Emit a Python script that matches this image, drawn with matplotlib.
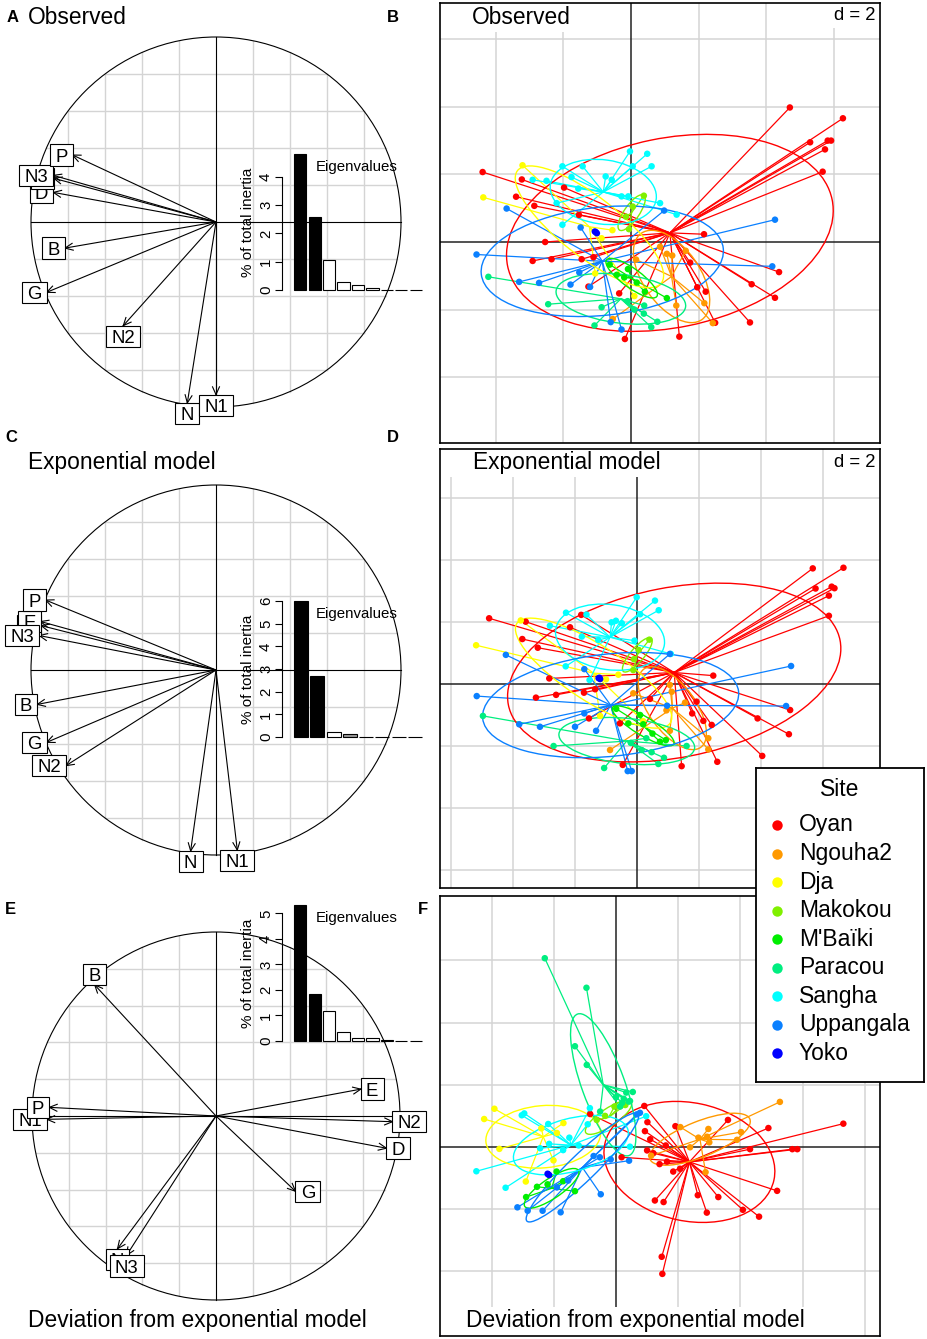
import matplotlib
matplotlib.use('Agg')
import matplotlib.pyplot as plt
from matplotlib.patches import Ellipse, Rectangle, Circle
from matplotlib.collections import LineCollection
import numpy as np

plt.rcParams['font.family'] = ['Liberation Sans', 'DejaVu Sans']

# ---------------- data ----------------
sites = ['Oyan', 'Ngouha2', 'Dja', 'Makokou', "M'Baïki", 'Paracou', 'Sangha', 'Uppangala', 'Yoko']
site_colors = ['#FF0000', '#FF9900', '#FFFF00', '#80F000', '#00EE00', '#00EE80', '#00FFFF', '#0A80FF', '#0000FF']

variables = ['B', 'D', 'E', 'G', 'N', 'N1', 'N2', 'N3', 'P']
obs_corr_x = [-0.816, -0.879, -0.876, -0.915, -0.155, 0.000, -0.501, -0.879, -0.775]
obs_corr_y = [-0.141, 0.160, 0.236, -0.380, -0.978, -0.933, -0.560, 0.252, 0.362]
exp_corr_x = [-0.966, -0.945, -0.948, -0.915, -0.137, 0.115, -0.811, -0.955, -0.921]
exp_corr_y = [-0.186, 0.240, 0.262, -0.391, -0.978, -0.973, -0.517, 0.186, 0.378]
dev_corr_x = [-0.659, 0.926, 0.787, 0.432, -0.535, -0.919, 0.959, -0.486, -0.906]
dev_corr_y = [0.712, -0.175, 0.146, -0.409, -0.721, -0.018, -0.031, -0.757, 0.047]

obs_eig = [4.80, 2.58, 1.07, 0.28, 0.17, 0.07, 0.0, 0.0, 0.0]
exp_eig = [6.00, 2.70, 0.20, 0.12, 0.0, 0.0, 0.0, 0.0]
dev_eig = [5.33, 1.83, 1.17, 0.34, 0.13, 0.12, 0.02, 0.0, 0.0]
obs_eig_fill = ['black', 'black', 'white', 'white', 'white', 'white', 'white', 'white', 'white']
exp_eig_fill = ['black', 'black', 'white', '#999999', 'white', 'white', 'white', 'white']
dev_eig_fill = ['black', 'black', 'white', 'white', 'white', 'white', 'white', 'white', 'white']

observed_pts = {
    'Oyan': [(4.70, 3.98), (6.27, 3.66), (5.30, 2.95), (5.82, 3.00), (5.92, 3.00), (5.74, 2.74),
             (5.67, 2.08), (2.16, 0.23), (4.38, -0.89), (3.57, -1.25), (4.26, -1.65), (3.52, -2.38),
             (2.49, -2.39), (2.21, -1.47), (1.96, -1.34), (1.43, -2.80), (1.75, -0.61),
             (-4.39, 2.07), (-3.23, 1.85), (-3.40, 1.34), (-2.86, 1.07), (-1.98, 1.61), (-1.54, 0.80),
             (-2.54, 0.00), (-2.91, -0.56), (-2.35, -0.51), (-1.46, -0.51), (-1.11, -0.45),
             (-1.26, -1.32), (-0.35, -1.52), (-0.18, -2.87)],
    'Ngouha2': [(1.06, -0.35), (1.22, -0.40), (1.62, -0.26), (0.15, -0.52), (1.34, -1.88),
                (2.17, -1.81), (2.42, -2.40), (-0.54, -2.28), (0.86, -0.14)],
    'Dja': [(-3.21, 2.27), (-4.37, 1.32), (-0.87, 0.11), (-1.06, -0.93), (0.10, -1.60), (-0.55, 0.35)],
    'Makokou': [(0.38, 1.37), (-0.06, 0.38), (-0.15, 0.75), (0.05, 1.05)],
    "M'Baïki": [(-0.63, -0.67), (-0.42, -0.97), (-0.09, -0.80), (1.06, -1.66), (0.41, -1.47),
                (0.17, -1.20), (-0.20, -1.05)],
    'Paracou': [(-4.22, -1.03), (-2.45, -1.84), (-0.87, -1.93), (-1.08, -2.47), (0.38, -2.12),
                (0.60, -2.52), (0.78, -2.36), (0.39, -1.88), (-0.10, -1.75), (0.10, -2.00)],
    'Sangha': [(-0.03, 2.68), (0.48, 2.61), (0.61, 2.24), (0.05, 2.24), (-0.75, 1.94), (-0.57, 1.84),
               (-1.43, 2.24), (-2.03, 2.24), (-1.76, 1.92), (-2.91, 1.84), (-2.50, 1.81), (-1.56, 1.58),
               (-0.28, 1.35), (-0.08, 1.35), (0.86, 1.15), (1.35, 0.81), (-2.20, 1.15), (-2.03, 0.51)],
    'Uppangala': [(-3.68, 0.99), (-4.57, -0.37), (-3.31, -1.18), (-2.72, -1.21), (-1.79, -1.26),
                  (-1.53, -0.90), (-1.21, -1.33), (-1.49, 0.43), (0.98, 0.93), (4.26, 0.66),
                  (4.18, -0.72), (-0.60, -2.37), (-0.28, -2.59)],
    'Yoko': [(-1.07, 0.31), (-1.01, 0.26), (-1.04, 0.29)],
}
# ellipse: centre x, centre y, semi-axis a, semi-axis b, angle (deg)
observed_ell = {
    'Oyan': (1.15, 0.27, 4.90, 2.80, 11.6), 'Ngouha2': (1.20, -1.02, 1.56, 0.84, -55),
    'Dja': (-1.23, 0.45, 2.70, 0.88, -38), 'Makokou': (0.02, 0.87, 0.63, 0.22, 55),
    "M'Baïki": (0.02, -1.07, 0.92, 0.28, -36), 'Paracou': (-0.30, -1.68, 1.93, 0.72, -7),
    'Sangha': (-0.82, 1.48, 1.58, 0.95, -8), 'Uppangala': (-0.85, -0.57, 3.60, 1.60, 6),
    'Yoko': (-1.04, 0.28, 0.06, 0.04, 30),
}

exponential_pts = {
    'Oyan': [(5.67, 3.73), (6.66, 3.75), (5.76, 3.08), (6.28, 3.14), (6.37, 3.09), (6.19, 2.85),
             (6.19, 2.20), (2.46, 0.27), (4.94, -0.84), (3.89, -1.11), (4.90, -1.62), (4.04, -2.32),
             (2.59, -2.51), (2.41, -1.32), (2.14, -1.19), (1.92, -0.57), (1.78, -0.95), (1.44, -2.65),
             (-4.77, 2.12), (-3.59, 2.01), (-3.70, 1.45), (-3.20, 1.17), (-2.16, 1.83), (-1.80, 2.23),
             (-2.83, 0.18), (-3.26, -0.44), (-2.61, -0.35), (-1.71, -0.28), (-1.35, -0.17),
             (-1.55, -1.11), (-0.55, -1.27), (-0.46, -2.61), (0.42, -0.48)],
    'Ngouha2': [(1.06, -0.03), (1.12, -0.25), (1.06, -1.51), (2.30, -1.75), (2.30, -2.11),
                (-0.87, -2.13), (-0.12, -0.30), (1.55, -0.60), (0.95, -0.85)],
    'Dja': [(-5.19, 1.25), (-3.75, 2.05), (-1.00, 0.15), (-1.19, -1.03), (-0.60, 0.30), (0.20, -1.20)],
    'Makokou': [(0.40, 1.43), (-0.12, 0.45), (-0.10, 0.80), (0.05, 1.10)],
    "M'Baïki": [(-0.67, -0.80), (0.10, -1.00), (-0.28, -1.27), (0.93, -1.81), (0.74, -1.86),
                (0.50, -1.60), (0.20, -1.30)],
    'Paracou': [(-4.97, -1.03), (-2.69, -2.00), (-1.06, -2.71), (0.69, -2.58), (0.87, -2.38),
                (0.47, -2.20), (1.60, -2.00), (0.15, -2.13), (-0.20, -1.90), (0.30, -1.75)],
    'Sangha': [(-0.01, 2.80), (0.58, 2.69), (0.70, 2.38), (0.10, 2.25), (-0.68, 2.04), (-0.82, 1.99),
               (-2.29, 2.30), (-1.63, 2.24), (-2.81, 1.88), (-1.78, 1.53), (-1.25, 1.42), (-0.08, 1.40),
               (1.09, 0.97), (-2.30, 0.57), (-1.53, 0.13), (-0.49, 1.96)],
    'Uppangala': [(-4.23, 0.94), (-5.17, -0.39), (-3.80, -1.30), (-3.13, -1.38), (-2.00, -1.38),
                  (-1.70, -0.95), (-1.32, -1.51), (-1.70, 0.48), (1.06, 0.97), (4.97, 0.58),
                  (4.81, -0.71), (-0.30, -2.81), (-0.17, -2.81), (0.97, -0.70)],
    'Yoko': [(-1.24, 0.19), (-1.19, 0.16), (-1.21, 0.20)],
}
exponential_ell = {
    'Oyan': (1.20, 0.37, 5.45, 2.74, 11), 'Ngouha2': (1.14, -0.78, 1.56, 0.75, -54),
    'Dja': (-1.40, 0.35, 2.95, 0.90, -33), 'Makokou': (0.01, 0.94, 0.70, 0.22, 50),
    "M'Baïki": (0.20, -1.35, 1.15, 0.30, -31), 'Paracou': (-0.33, -1.84, 2.20, 0.73, -6),
    'Sangha': (-0.87, 1.51, 1.77, 1.05, -8), 'Uppangala': (-0.85, -0.68, 4.15, 1.65, 6),
    'Yoko': (-1.21, 0.18, 0.06, 0.04, 30),
}

deviation_pts = {
    'Oyan': [(7.31, 0.75), (5.67, -0.07), (5.83, -0.07), (4.31, -0.07), (4.90, 0.61), (5.18, -1.41),
             (4.60, -2.24), (4.08, -2.02), (3.29, -1.61), (2.92, -2.11), (2.63, -1.55), (1.53, -1.77),
             (1.25, -1.72), (1.47, -3.53), (1.49, -4.08), (1.91, 0.67), (3.60, 0.87), (0.91, 1.32),
             (1.01, 0.80), (0.93, 0.51), (1.10, 0.25), (1.00, -0.11), (1.20, -0.20), (1.64, -0.47),
             (1.84, -0.79), (2.06, -0.70), (-0.83, 1.06), (0.18, -0.33), (1.40, -0.55), (1.60, 0.05)],
    'Ngouha2': [(5.27, 1.45), (4.02, 0.48), (3.89, 0.23), (2.97, 0.58), (2.93, 0.33), (2.65, 0.30),
                (2.38, -0.01), (2.07, 0.64), (1.13, -0.28), (2.88, -0.81), (3.00, 0.15)],
    'Dja': [(-3.91, 1.23), (-4.24, 0.90), (-3.75, -0.06), (-1.69, 0.77), (-2.01, -0.43), (-2.90, -1.11),
            (-1.90, 0.45), (-2.40, 0.60)],
    'Makokou': [(0.15, 1.32), (-0.05, 1.30), (-0.62, 0.87), (-0.35, 1.00), (0.30, 1.35)],
    "M'Baïki": [(-2.89, -1.61), (-2.54, -1.28), (-1.91, -0.79), (-1.32, -1.42), (-2.20, -1.20),
                (-1.70, -1.10)],
    'Paracou': [(-2.29, 6.07), (-0.95, 5.12), (-1.32, 3.24), (-0.94, 2.64), (0.33, 1.75), (0.54, 1.77),
                (0.41, 1.46), (0.13, 1.30), (-0.51, 1.14), (0.00, 1.60), (0.25, 1.55), (0.45, 1.48),
                (0.20, 1.42)],
    'Sangha': [(-4.49, -0.78), (-3.55, -1.31), (-3.03, 1.02), (-2.95, 1.08), (-2.18, 0.74), (-2.15, 0.10),
               (-2.44, -0.04), (-0.84, 1.25), (-0.91, 0.73), (0.97, 0.99), (0.45, 0.01), (-1.50, 0.30),
               (-1.20, 0.05), (-1.70, -0.10)],
    'Uppangala': [(-3.17, -1.94), (-2.84, -2.05), (-2.36, -2.05), (-1.78, -2.10), (-0.49, -1.52),
                  (-0.72, -0.29), (-0.52, -0.33), (-0.17, -0.40), (0.42, -0.44), (0.77, 1.10),
                  (0.67, 1.05), (-1.54, -1.08), (-1.90, -1.30)],
    'Yoko': [(-2.20, -0.86), (-2.15, -0.90), (-2.18, -0.88)],
}
deviation_ell = {
    'Oyan': (2.36, -0.48, 2.78, 1.90, -12), 'Ngouha2': (2.70, 0.25, 1.73, 0.57, 22),
    'Dja': (-2.34, 0.33, 1.85, 1.00, 5), 'Makokou': (-0.24, 0.95, 0.88, 0.28, 34),
    "M'Baïki": (-2.07, -1.33, 1.04, 0.32, 34), 'Paracou': (-0.41, 2.00, 2.42, 0.69, 110),
    'Sangha': (-1.45, 0.06, 1.90, 0.85, 15), 'Uppangala': (-1.08, -0.66, 2.48, 0.43, 44),
    'Yoko': (-2.18, -0.88, 0.06, 0.04, 30),
}

# ---------------- layout helpers ----------------
W, H = 928, 1339
fig = plt.figure(figsize=(W / 100, H / 100), dpi=100)
renderer = fig.canvas.get_renderer()


def px_axes(x0, y0, x1, y1):
    return fig.add_axes([x0 / W, 1 - y1 / H, (x1 - x0) / W, (y1 - y0) / H])


GRID = '#D4D4D4'
LW = 0.8


def corcircle(cx, cy, r, xs, ys):
    pad = 1.15
    ax = px_axes(cx - r * pad, cy - r * pad, cx + r * pad, cy + r * pad)
    ax.set_xlim(-pad, pad)
    ax.set_ylim(-pad, pad)
    ax.axis('off')
    for g in np.arange(-0.8, 0.81, 0.2):
        if abs(g) < 1e-6:
            continue
        h = np.sqrt(1 - g * g)
        ax.plot([g, g], [-h, h], color=GRID, lw=1.0, zorder=1)
        ax.plot([-h, h], [g, g], color=GRID, lw=1.0, zorder=1)
    ax.plot([-1, 1], [0, 0], color='k', lw=LW, zorder=2)
    ax.plot([0, 0], [-1, 1], color='k', lw=LW, zorder=2)
    ax.add_patch(Circle((0, 0), 1, fill=False, ec='k', lw=LW, zorder=2))
    hl = 8.5 / r
    for x, y in zip(xs, ys):
        ax.plot([0, x], [0, y], color='k', lw=LW, zorder=3)
        ang = np.arctan2(y, x)
        for s in (1, -1):
            a2 = ang + np.pi + s * np.radians(24)
            ax.plot([x, x + hl * np.cos(a2)], [y, y + hl * np.sin(a2)], color='k', lw=LW, zorder=3)
    fs = 13.4
    fs_px = fs * 100 / 72
    yh = 10.7 / r
    for i, (lab, x, y) in enumerate(zip(variables, xs, ys)):
        t = ax.text(0, 0, lab, fontsize=fs)
        wpx = t.get_window_extent(renderer).width
        t.remove()
        xh = (wpx + 2 * 0.278 * fs_px) / r
        if x > y and x > -y:
            x1, y1 = x + xh / 2, y
        elif x > y and x <= -y:
            x1, y1 = x, y - yh
        elif x <= y and x <= -y:
            x1, y1 = x - xh / 2, y
        else:
            x1, y1 = x, y + yh
        z = 10 + 2 * i
        ax.add_patch(Rectangle((x1 - xh / 2, y1 - yh), xh, 2 * yh, fc='white', ec='k', lw=LW,
                               zorder=z, clip_on=False))
        ax.text(x1, y1 - 0.358 * fs_px / r, lab, ha='center', va='baseline', fontsize=fs,
                zorder=z + 1, clip_on=False)
    return ax


def eig_inset(baseline_px, eig, fills):
    iax = px_axes(282, baseline_px - 136, 423, baseline_px)
    n = len(eig)
    slot = 130.0 / n
    iax.set_xlim(-11.0 / slot, n)
    iax.set_ylim(0, max(eig))
    iax.bar(np.arange(n) + 0.5, eig, width=0.85, color=fills, edgecolor='k', linewidth=LW,
            clip_on=False)
    iax.patch.set_alpha(0)
    for s in ['top', 'right', 'bottom']:
        iax.spines[s].set_visible(False)
    ticks = np.arange(0, int(np.floor(max(eig))) + 1)
    iax.set_yticks(ticks)
    iax.set_yticklabels([str(t) for t in ticks])
    iax.spines['left'].set_bounds(0, ticks[-1])
    iax.spines['left'].set_linewidth(LW)
    iax.tick_params(axis='y', direction='out', length=5, width=LW, labelsize=10.8, pad=1.5)
    for lab in iax.get_yticklabels():
        lab.set_rotation(90)
        lab.set_va('center')
        lab.set_ha('right')
    iax.set_xticks([])
    iax.set_ylabel('% of total inertia', fontsize=11, labelpad=3)
    iax.text(0.24, 0.905, 'Eigenvalues', transform=iax.transAxes, fontsize=10.8, va='center')
    return iax


def scatter_panel(box, origin, unit, pts, ells):
    x0, y0, x1, y1 = box
    ox, oy = origin
    ax = px_axes(x0, y0, x1, y1)
    ax.set_xlim((x0 - ox) / unit, (x1 - ox) / unit)
    ax.set_ylim((oy - y1) / unit, (oy - y0) / unit)
    ax.set_xticks([])
    ax.set_yticks([])
    for s in ax.spines.values():
        s.set_linewidth(1.2)
    xl, yl = ax.get_xlim(), ax.get_ylim()
    for g in np.arange(-8, 9, 2):
        if g == 0:
            continue
        if xl[0] + 0.15 < g < xl[1] - 0.15:
            ax.axvline(g, color=GRID, lw=1.1, zorder=0)
        if yl[0] + 0.15 < g < yl[1] - 0.15:
            ax.axhline(g, color=GRID, lw=1.1, zorder=0)
    ax.axvline(0, color='#222222', lw=1.1, zorder=1)
    ax.axhline(0, color='#222222', lw=1.1, zorder=1)
    for site, col in zip(sites, site_colors):
        cx, cy, a, b, ang = ells[site]
        p = np.array(pts[site])
        segs = [[(cx, cy), (px, py)] for px, py in p]
        ax.add_collection(LineCollection(segs, colors=col, linewidths=0.9, zorder=3))
    for site, col in zip(sites, site_colors):
        cx, cy, a, b, ang = ells[site]
        ax.add_patch(Ellipse((cx, cy), 2 * a, 2 * b, angle=ang, fill=False, ec=col, lw=1.0, zorder=4))
    for site, col in zip(sites, site_colors):
        p = np.array(pts[site])
        ax.scatter(p[:, 0], p[:, 1], s=22, color=col, edgecolors='none', zorder=5)
    return ax


def box_text(ax, rect, txt, x, y, fs, ha='left'):
    ax.add_patch(Rectangle((rect[0], rect[1]), rect[2] - rect[0], rect[3] - rect[1],
                           transform=ax.transAxes, fc='white', ec='none', zorder=2))
    ax.text(x, y, txt, transform=ax.transAxes, fontsize=fs, ha=ha, va='center', zorder=6)


# ---------------- left column ----------------
corcircle(216, 222, 185, obs_corr_x, obs_corr_y)
eig_inset(290, obs_eig, obs_eig_fill)
corcircle(216, 670, 185, exp_corr_x, exp_corr_y)
eig_inset(737, exp_eig, exp_eig_fill)
corcircle(216, 1116, 184, dev_corr_x, dev_corr_y)
eig_inset(1041, dev_eig, dev_eig_fill)

# ---------------- right column ----------------
axB = scatter_panel((440, 3, 880, 443), (631, 242), 33.8, observed_pts, observed_ell)
box_text(axB, (0, 0.934, 0.307, 1), 'Observed', 0.073, 0.968, 16.4)
box_text(axB, (0.886, 0.943, 1, 1), 'd = 2', 0.989, 0.971, 13.3, ha='right')

axD = scatter_panel((440, 449, 880, 888), (637, 684), 31.0, exponential_pts, exponential_ell)
box_text(axD, (0, 0.936, 0.511, 1), 'Exponential model', 0.075, 0.970, 16.4)
box_text(axD, (0.886, 0.943, 1, 1), 'd = 2', 0.989, 0.970, 13.3, ha='right')

axF = scatter_panel((440, 896, 880, 1336), (616, 1147), 31.1, deviation_pts, deviation_ell)
box_text(axF, (0, 0, 0.836, 0.066), 'Deviation from exponential model', 0.059, 0.036, 16.4)

# ---------------- panel titles / letters ----------------
def ftext(x, y, s, **kw):
    fig.text(x / W, 1 - y / H, s, **kw)


ftext(28, 17, 'Observed', fontsize=16.4, va='center')
ftext(28, 462, 'Exponential model', fontsize=16.4, va='center')
ftext(28, 1320, 'Deviation from exponential model', fontsize=16.4, va='center')
for lab, x, y in [('A', 13, 18), ('B', 393, 18), ('C', 11, 438), ('D', 393, 438),
                  ('E', 10, 909), ('F', 423, 909)]:
    ftext(x, y, lab, fontsize=12, fontweight='bold', ha='center', va='center')

# ---------------- legend ----------------
lax = px_axes(756, 768, 924, 1082)
lax.set_xlim(0, 168)
lax.set_ylim(314, 0)
lax.set_xticks([])
lax.set_yticks([])
lax.set_facecolor('white')
for s in lax.spines.values():
    s.set_linewidth(1.3)
lax.text(84, 21, 'Site', fontsize=16.5, ha='center', va='center')
for i, (site, col) in enumerate(zip(sites, site_colors)):
    yy = 57 + 28.5 * i
    lax.plot(21, yy, 'o', ms=7.5, color=col, mec='none')
    lax.text(43, yy, site, fontsize=16.5, va='center')

fig.savefig('out.png', dpi=100)
